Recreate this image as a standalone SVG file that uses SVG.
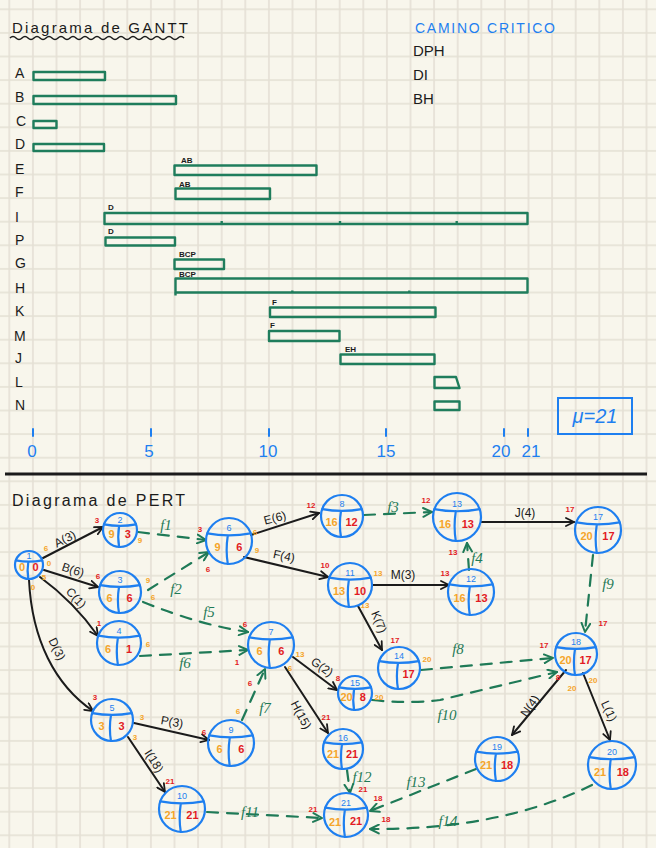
<svg xmlns="http://www.w3.org/2000/svg" width="656" height="848" viewBox="0 0 656 848">
<defs>
<pattern id="grid" x="-2.5" y="-2.5" width="23.6" height="23.6" patternUnits="userSpaceOnUse">
<path d="M11.8,0 V23.6 M0,11.8 H23.6" stroke="#e4e0d4" stroke-width="1.6" fill="none"/>
</pattern>
<marker id="ab" viewBox="0 0 10 10" refX="9" refY="5" markerWidth="10" markerHeight="10" orient="auto" markerUnits="userSpaceOnUse">
<path d="M1,1 L9,5 L1,9" fill="none" stroke="#1b1b1b" stroke-width="1.8" stroke-linecap="round" stroke-linejoin="round"/>
</marker>
<marker id="ag" viewBox="0 0 10 10" refX="9" refY="5" markerWidth="11" markerHeight="11" orient="auto" markerUnits="userSpaceOnUse">
<path d="M1,1 L9,5 L1,9" fill="none" stroke="#1f7a57" stroke-width="1.8" stroke-linecap="round" stroke-linejoin="round"/>
</marker>
<style>
.t{font-family:"Liberation Sans","DejaVu Sans",sans-serif}
.bar{fill:none;stroke:#1f7d5c;stroke-width:2.4;stroke-linejoin:round}
.row{font-family:"Liberation Sans","DejaVu Sans",sans-serif;font-size:14px;fill:#1b1b1b}
.pre{font-family:"Liberation Sans","DejaVu Sans",sans-serif;font-size:8px;font-weight:bold;fill:#1b1b1b}
.ax{font-family:"Liberation Sans","DejaVu Sans",sans-serif;font-size:17px;fill:#1e7ff0;text-anchor:middle}
.tick{stroke:#1e7ff0;stroke-width:2;stroke-linecap:round}
.nc{fill:none;stroke:#1e7ff0;stroke-width:2.2;stroke-linecap:round}
.tn{font-family:"Liberation Sans","DejaVu Sans",sans-serif;font-size:9px;fill:#1e7ff0;text-anchor:middle}
.tl{font-family:"Liberation Sans","DejaVu Sans",sans-serif;font-size:11px;font-weight:bold;fill:#f5a52a;text-anchor:middle}
.tr{font-family:"Liberation Sans","DejaVu Sans",sans-serif;font-size:11px;font-weight:bold;fill:#e21b23;text-anchor:middle}
.sr{font-family:"Liberation Sans","DejaVu Sans",sans-serif;font-size:8px;font-weight:bold;fill:#e21b23;text-anchor:middle}
.so{font-family:"Liberation Sans","DejaVu Sans",sans-serif;font-size:8px;font-weight:bold;fill:#f5a52a;text-anchor:middle}
.eb{fill:none;stroke:#1b1b1b;stroke-width:2;stroke-linecap:round;marker-end:url(#ab)}
.eg{fill:none;stroke:#1f7a57;stroke-width:2.2;stroke-linecap:round;stroke-dasharray:11 9;marker-end:url(#ag)}
.lb{font-family:"Liberation Sans","DejaVu Sans",sans-serif;font-size:12px;fill:#1b1b1b;text-anchor:middle}
.lg{font-family:"Liberation Serif","DejaVu Serif",serif;font-style:italic;font-size:15px;fill:#1f7a57;text-anchor:middle}
</style>
</defs>
<rect width="656" height="848" fill="#f8f6ec"/>
<rect width="656" height="848" fill="url(#grid)"/>

<!-- GANTT -->
<g id="gantt">
<text class="t" x="12" y="33" font-size="15" fill="#1b1b1b" textLength="176" lengthAdjust="spacing">Diagrama de GANTT</text>
<path d="M10,38 q3,-3 6,0 t6,0 t6,0 t6,0 t6,0 t6,0 t6,0 t6,0 t6,0 t6,0 t6,0 t6,0 t6,0 t6,0 t6,0 t6,0 t6,0 t6,0 t6,0 t6,0 t6,0 t6,0 t6,0 t6,0 t6,0 t6,0 t6,0 t6,0 t6,0" fill="none" stroke="#1b1b1b" stroke-width="1.5"/>

<text class="row" x="15" y="78">A</text>
<text class="row" x="15" y="102">B</text>
<text class="row" x="16" y="126" font-size="11">C</text>
<text class="row" x="15" y="149">D</text>
<text class="row" x="15" y="174">E</text>
<text class="row" x="15" y="197">F</text>
<text class="row" x="15" y="222">I</text>
<text class="row" x="15" y="245">P</text>
<text class="row" x="15" y="268">G</text>
<text class="row" x="15" y="293">H</text>
<text class="row" x="15" y="316">K</text>
<text class="row" x="14" y="341">M</text>
<text class="row" x="15" y="363">J</text>
<text class="row" x="15" y="387">L</text>
<text class="row" x="15" y="410">N</text>

<rect class="bar" x="33.5" y="72" width="71.5" height="8"/>
<rect class="bar" x="33.5" y="96" width="142.5" height="8"/>
<rect class="bar" x="33.5" y="121" width="23" height="7"/>
<rect class="bar" x="33.5" y="144" width="70.5" height="7"/>
<rect class="bar" x="174.5" y="165.5" width="142" height="9.5"/>
<rect class="bar" x="175.5" y="188.5" width="94.5" height="10.5"/>
<rect class="bar" x="104.5" y="213" width="423" height="11"/>
<path class="bar" d="M221.7,224 v-3 M340,224 v-3 M456.7,224 v-3"/>
<rect class="bar" x="105.5" y="237.5" width="69.5" height="8"/>
<rect class="bar" x="174.5" y="259.5" width="49.5" height="9.5"/>
<rect class="bar" x="175.5" y="278.5" width="352" height="14"/>
<path class="bar" d="M175.5,292.5 v3 M292.3,292.5 v-2 M409.3,292.5 v-2"/>
<rect class="bar" x="270" y="307.5" width="165.5" height="9.5"/>
<rect class="bar" x="269" y="331" width="70.5" height="10"/>
<rect class="bar" x="340.5" y="354.5" width="94" height="9.5"/>
<path class="bar" d="M434.5,377 H456 L459.5,388 H434.5 Z"/>
<rect class="bar" x="434.5" y="401.5" width="25" height="8.5"/>

<text class="pre" x="181" y="163">AB</text>
<text class="pre" x="179" y="187">AB</text>
<text class="pre" x="108" y="210">D</text>
<text class="pre" x="108" y="234">D</text>
<text class="pre" x="179" y="257">BCP</text>
<text class="pre" x="179" y="277">BCP</text>
<text class="pre" x="272" y="305">F</text>
<text class="pre" x="270" y="328">F</text>
<text class="pre" x="345" y="352">EH</text>

<path class="tick" d="M33,429 v7 M151,429 v7 M269,429 v7 M386,429 v7 M504,429 v7 M528,429 v7"/>
<text class="ax" x="32" y="457">0</text>
<text class="ax" x="149" y="457">5</text>
<text class="ax" x="268" y="457">10</text>
<text class="ax" x="386" y="457">15</text>
<text class="ax" x="501" y="457">20</text>
<text class="ax" x="531" y="457" font-size="14">21</text>

<rect x="558" y="398" width="74" height="36" fill="none" stroke="#1e7ff0" stroke-width="2"/>
<text class="t" x="595" y="423" font-size="20" font-style="italic" fill="#1e7ff0" text-anchor="middle">μ=21</text>

<text class="t" x="415" y="33" font-size="14" fill="#1e7ff0" textLength="140" lengthAdjust="spacing">CAMINO CRITICO</text>
<text class="t" x="413" y="56" font-size="15" fill="#1b1b1b">DPH</text>
<text class="t" x="413" y="80" font-size="15" fill="#1b1b1b">DI</text>
<text class="t" x="413" y="104" font-size="15" fill="#1b1b1b">BH</text>
</g>

<line x1="5" y1="474" x2="647" y2="474" stroke="#1b1b1b" stroke-width="3"/>

<text class="t" x="12" y="506" font-size="16" fill="#1b1b1b" textLength="173" lengthAdjust="spacing">Diagrama de PERT</text>

<!-- connectors -->
<g id="connectors">
<path class="eb" d="M43,558 L103,527"/>
<path class="eb" d="M44,570 L98,587"/>
<path class="eb" d="M40,577 Q74,602 98,636"/>
<path class="eb" d="M29,580 C32,640 55,685 93,711"/>
<path class="eb" d="M251,535 L319,513"/>
<path class="eb" d="M244,557 L328,577"/>
<path class="eb" d="M372,585 L449,585"/>
<path class="eb" d="M358,606 L382,650"/>
<path class="eb" d="M481,522 L574,522"/>
<path class="eb" d="M293,657 L337,690"/>
<path class="eb" d="M285,667 L328,733"/>
<path class="eb" d="M134,723 L209,740"/>
<path class="eb" d="M128,737 L165,792"/>
<path class="eb" d="M566,670 L512,735"/>
<path class="eb" d="M583,673 L610,740"/>

<path class="eg" d="M138,532 L206,540"/>
<path class="eg" d="M148,590 L209,552"/>
<path class="eg" d="M143,602 Q200,625 248,632"/>
<path class="eg" d="M140,656 L248,650"/>
<path class="eg" d="M242,720 L265,669"/>
<path class="eg" d="M364,515 L432,512"/>
<path class="eg" d="M469,570 L467,543"/>
<path class="eg" d="M421,670 L553,658"/>
<path class="eg" d="M593,555 L585,632"/>
<path class="eg" d="M372,700 Q410,704 440,700 L557,672"/>
<path class="eg" d="M207,812 L322,818"/>
<path class="eg" d="M347,770 L350,793"/>
<path class="eg" d="M476,769 L370,811"/>
<path class="eg" d="M592,785 Q500,830 370,829"/>

<text class="lb" transform="rotate(-27 65 539)" x="65" y="543">A(3)</text>
<text class="lb" transform="rotate(18 73 570)" x="73" y="574">B(6)</text>
<text class="lb" transform="rotate(48 76 598)" x="76" y="602">C(1)</text>
<text class="lb" transform="rotate(64 57 649)" x="57" y="653">D(3)</text>
<text class="lb" transform="rotate(-15 275 518)" x="275" y="522">E(6)</text>
<text class="lb" transform="rotate(12 284 556)" x="284" y="560">F(4)</text>
<text class="lb" x="403" y="579">M(3)</text>
<text class="lb" transform="rotate(68 379 622)" x="379" y="626">K(7)</text>
<text class="lb" x="525" y="517">J(4)</text>
<text class="lb" transform="rotate(35 322 667)" x="322" y="671">G(2)</text>
<text class="lb" transform="rotate(62 301 715)" x="301" y="719">H(15)</text>
<text class="lb" transform="rotate(10 172 722)" x="172" y="726">P(3)</text>
<text class="lb" transform="rotate(58 154 761)" x="154" y="765">I(18)</text>
<text class="lb" transform="rotate(-55 530 706)" x="530" y="710" font-size="10">N(4)</text>
<text class="lb" transform="rotate(65 609 711)" x="609" y="715" font-size="10">L(1)</text>

<text class="lg" x="166" y="530">f1</text>
<text class="lg" x="176" y="594">f2</text>
<text class="lg" x="209" y="617">f5</text>
<text class="lg" x="185" y="668">f6</text>
<text class="lg" x="265" y="713">f7</text>
<text class="lg" x="393" y="512">f3</text>
<text class="lg" x="477" y="563">f4</text>
<text class="lg" x="458" y="654">f8</text>
<text class="lg" x="608" y="589">f9</text>
<text class="lg" x="447" y="720" font-size="13">f10</text>
<text class="lg" x="250" y="817" font-size="13">f11</text>
<text class="lg" x="362" y="782" font-size="13">f12</text>
<text class="lg" x="416" y="787" font-size="13">f13</text>
<text class="lg" x="448" y="826" font-size="13">f14</text>

<text class="so" x="46" y="551">6</text>
<text class="so" x="49" y="566">0</text>
<text class="so" x="44" y="580">5</text>
<text class="so" x="33" y="590">0</text>
<text class="sr" x="97" y="523">3</text>
<text class="so" x="140" y="543">9</text>
<text class="sr" x="98" y="579">6</text>
<text class="so" x="148" y="583">9</text>
<text class="so" x="153" y="600">6</text>
<text class="sr" x="99" y="626">1</text>
<text class="so" x="148" y="647">6</text>
<text class="sr" x="95" y="700">3</text>
<text class="so" x="142" y="720">3</text>
<text class="so" x="135" y="740">3</text>
<text class="sr" x="200" y="532">3</text>
<text class="sr" x="208" y="572">6</text>
<text class="so" x="255" y="535">6</text>
<text class="so" x="257" y="553">9</text>
<text class="sr" x="311" y="508">12</text>
<text class="sr" x="325" y="568">10</text>
<text class="so" x="378" y="576">13</text>
<text class="so" x="365" y="608">13</text>
<text class="sr" x="426" y="503">12</text>
<text class="sr" x="453" y="555">13</text>
<text class="sr" x="445" y="576">13</text>
<text class="sr" x="570" y="512">17</text>
<text class="sr" x="603" y="626">17</text>
<text class="sr" x="544" y="648">17</text>
<text class="sr" x="558" y="680">8</text>
<text class="so" x="593" y="683">20</text>
<text class="so" x="572" y="691">20</text>
<text class="sr" x="395" y="643">17</text>
<text class="so" x="427" y="662">20</text>
<text class="sr" x="338" y="681">8</text>
<text class="so" x="379" y="700">20</text>
<text class="sr" x="245" y="627">6</text>
<text class="sr" x="237" y="665">1</text>
<text class="so" x="300" y="657">13</text>
<text class="so" x="290" y="671">6</text>
<text class="sr" x="250" y="686">6</text>
<text class="so" x="238" y="714">6</text>
<text class="sr" x="204" y="735">6</text>
<text class="sr" x="170" y="784">21</text>
<text class="sr" x="326" y="720">21</text>
<text class="sr" x="363" y="792">21</text>
<text class="sr" x="313" y="812">21</text>
<text class="sr" x="378" y="801">18</text>
<text class="sr" x="386" y="822">18</text>
</g>

<!-- nodes -->
<g id="n1" transform="translate(29,565)"><circle class="nc" r="14"/><path class="nc" d="M-13.2,-4.6 Q0,-2.1 13.2,-4.6 M-0.7,-3.4 Q-2.1,5.6 -0.7,14"/><text class="tn" y="-6.5" font-size="7">1</text><text class="tl" x="-7" y="6" font-size="10">0</text><text class="tr" x="6.5" y="6" font-size="10">0</text></g>
<g id="n2" transform="translate(120,530)"><circle class="nc" r="17"/><path class="nc" d="M-16,-5.6 Q0,-2.6 16,-5.6 M-0.9,-4.1 Q-2.6,6.8 -0.9,17"/><text class="tn" y="-7.5" font-size="8">2</text><text class="tl" x="-8.5" y="8" font-size="10">9</text><text class="tr" x="7.7" y="8" font-size="10">3</text></g>
<g id="n3" transform="translate(120,592)"><circle class="nc" r="21"/><path class="nc" d="M-19.7,-6.9 Q0,-3.2 19.7,-6.9 M-1,-5 Q-3.2,8.4 -1,21"/><text class="tn" y="-9">3</text><text class="tl" x="-10.5" y="9.5">6</text><text class="tr" x="9.5" y="9.5">6</text></g>
<g id="n4" transform="translate(119,643)"><circle class="nc" r="22"/><path class="nc" d="M-20.7,-7.3 Q0,-3.3 20.7,-7.3 M-1.1,-5.3 Q-3.3,8.8 -1.1,22"/><text class="tn" y="-9.5">4</text><text class="tl" x="-11" y="10">6</text><text class="tr" x="10" y="10">1</text></g>
<g id="n5" transform="translate(112,720)"><circle class="nc" r="21"/><path class="nc" d="M-19.7,-6.9 Q0,-3.2 19.7,-6.9 M-1,-5 Q-3.2,8.4 -1,21"/><text class="tn" y="-9">5</text><text class="tl" x="-10.5" y="9.5">3</text><text class="tr" x="9.5" y="9.5" font-size="14">3</text></g>
<g id="n6" transform="translate(229,541)"><circle class="nc" r="23"/><path class="nc" d="M-21.6,-7.6 Q0,-3.5 21.6,-7.6 M-1.2,-5.5 Q-3.5,9.2 -1.2,23"/><text class="tn" y="-10">6</text><text class="tl" x="-11.5" y="10.4">9</text><text class="tr" x="10.4" y="10.4">6</text></g>
<g id="n7" transform="translate(271,645)"><circle class="nc" r="23"/><path class="nc" d="M-21.6,-7.6 Q0,-3.5 21.6,-7.6 M-1.2,-5.5 Q-3.5,9.2 -1.2,23"/><text class="tn" y="-10">7</text><text class="tl" x="-11.5" y="10.4">6</text><text class="tr" x="10.4" y="10.4">6</text></g>
<g id="n8" transform="translate(342,516)"><circle class="nc" r="21"/><path class="nc" d="M-19.7,-6.9 Q0,-3.2 19.7,-6.9 M-1,-5 Q-3.2,8.4 -1,21"/><text class="tn" y="-9">8</text><text class="tl" x="-10.5" y="9.5" font-size="10">16</text><text class="tr" x="9.5" y="9.5" font-size="10">12</text></g>
<g id="n9" transform="translate(231,743)"><circle class="nc" r="23"/><path class="nc" d="M-21.6,-7.6 Q0,-3.5 21.6,-7.6 M-1.2,-5.5 Q-3.5,9.2 -1.2,23"/><text class="tn" y="-10" font-size="11">9</text><text class="tl" x="-11.5" y="10.4" font-size="13">6</text><text class="tr" x="10.4" y="10.4" font-size="13">6</text></g>
<g id="n10" transform="translate(182,809)"><circle class="nc" r="23"/><path class="nc" d="M-21.6,-7.6 Q0,-3.5 21.6,-7.6 M-1.2,-5.5 Q-3.5,9.2 -1.2,23"/><text class="tn" y="-10">10</text><text class="tl" x="-11.5" y="10.4" font-size="10">21</text><text class="tr" x="10.4" y="10.4">21</text></g>
<g id="n11" transform="translate(350,585)"><circle class="nc" r="22"/><path class="nc" d="M-20.7,-7.3 Q0,-3.3 20.7,-7.3 M-1.1,-5.3 Q-3.3,8.8 -1.1,22"/><text class="tn" y="-9.5">11</text><text class="tl" x="-11" y="10" font-size="10">13</text><text class="tr" x="10" y="10" font-size="10">10</text></g>
<g id="n12" transform="translate(471,592)"><circle class="nc" r="23"/><path class="nc" d="M-21.6,-7.6 Q0,-3.5 21.6,-7.6 M-1.2,-5.5 Q-3.5,9.2 -1.2,23"/><text class="tn" y="-10">12</text><text class="tl" x="-11.5" y="10.4" font-size="10">16</text><text class="tr" x="10.4" y="10.4" font-size="10">13</text></g>
<g id="n13" transform="translate(457,517)"><circle class="nc" r="24"/><path class="nc" d="M-22.6,-7.9 Q0,-3.6 22.6,-7.9 M-1.2,-5.8 Q-3.6,9.6 -1.2,24"/><text class="tn" y="-10.5">13</text><text class="tl" x="-12" y="10.8" font-size="10">16</text><text class="tr" x="10.8" y="10.8" font-size="10">13</text></g>
<g id="n14" transform="translate(399,668)"><circle class="nc" r="21"/><path class="nc" d="M-19.7,-6.9 Q0,-3.2 19.7,-6.9 M-1,-5 Q-3.2,8.4 -1,21"/><text class="tn" y="-9">14</text><text class="tr" x="9.5" y="9.5" font-size="10">17</text></g>
<g id="n15" transform="translate(355,693)"><circle class="nc" r="17"/><path class="nc" d="M-16,-5.6 Q0,-2.6 16,-5.6 M-0.9,-4.1 Q-2.6,6.8 -0.9,17"/><text class="tn" y="-7.5" font-size="8">15</text><text class="tl" x="-8.5" y="8" font-size="9">20</text><text class="tr" x="7.7" y="8" font-size="10">8</text></g>
<g id="n16" transform="translate(343,749)"><circle class="nc" r="20"/><path class="nc" d="M-18.8,-6.6 Q0,-3 18.8,-6.6 M-1,-4.8 Q-3,8 -1,20"/><text class="tn" y="-8.5">16</text><text class="tl" x="-10" y="9" font-size="10">21</text><text class="tr" x="9" y="9" font-size="10">21</text></g>
<g id="n17" transform="translate(598,530)"><circle class="nc" r="23"/><path class="nc" d="M-21.6,-7.6 Q0,-3.5 21.6,-7.6 M-1.2,-5.5 Q-3.5,9.2 -1.2,23"/><text class="tn" y="-10">17</text><text class="tl" x="-11.5" y="10.4" font-size="10">20</text><text class="tr" x="10.4" y="10.4" font-size="10">17</text></g>
<g id="n18" transform="translate(576,654)"><circle class="nc" r="21"/><path class="nc" d="M-19.7,-6.9 Q0,-3.2 19.7,-6.9 M-1,-5 Q-3.2,8.4 -1,21"/><text class="tn" y="-9">18</text><text class="tl" x="-10.5" y="9.5" font-size="10">20</text><text class="tr" x="9.5" y="9.5" font-size="10">17</text></g>
<g id="n19" transform="translate(497,759)"><circle class="nc" r="22"/><path class="nc" d="M-20.7,-7.3 Q0,-3.3 20.7,-7.3 M-1.1,-5.3 Q-3.3,8.8 -1.1,22"/><text class="tn" y="-9.5">19</text><text class="tl" x="-11" y="10" font-size="10">21</text><text class="tr" x="10" y="10" font-size="10">18</text></g>
<g id="n20" transform="translate(612,765)"><circle class="nc" r="24"/><path class="nc" d="M-22.6,-7.9 Q0,-3.6 22.6,-7.9 M-1.2,-5.8 Q-3.6,9.6 -1.2,24"/><text class="tn" y="-10.5">20</text><text class="tl" x="-12" y="10.8" font-size="10">21</text><text class="tr" x="10.8" y="10.8" font-size="10">18</text></g>
<g id="n21" transform="translate(346,815)"><circle class="nc" r="22"/><path class="nc" d="M-20.7,-7.3 Q0,-3.3 20.7,-7.3 M-1.1,-5.3 Q-3.3,8.8 -1.1,22"/><text class="tn" y="-9.5">21</text><text class="tl" x="-11" y="11" font-size="14" font-weight="normal">21</text><text class="tr" x="10" y="10" font-size="11">21</text></g>
</svg>
